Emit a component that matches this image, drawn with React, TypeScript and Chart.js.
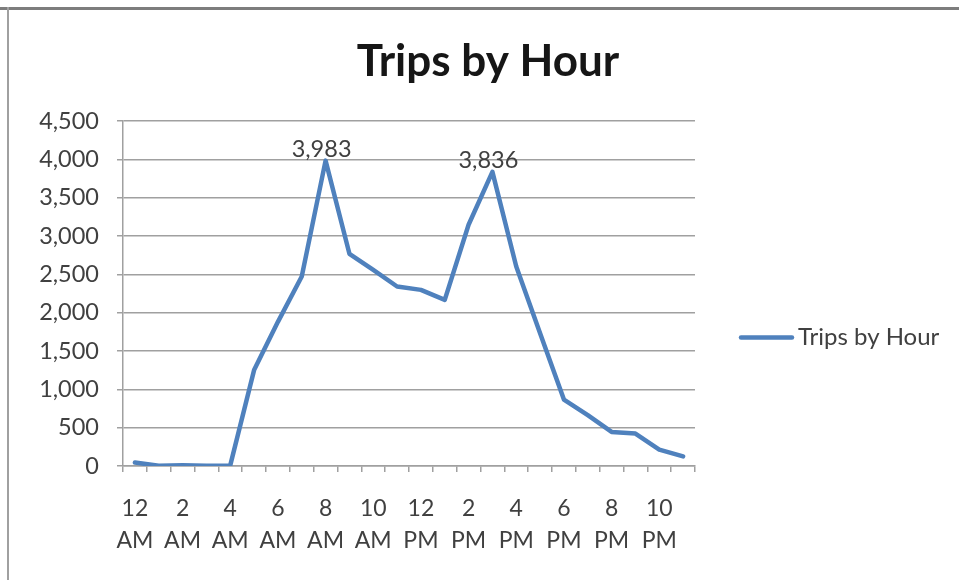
import React, { useEffect, useRef } from "react";
import { Chart, registerables } from "chart.js";

Chart.register(...registerables);

const categories = [
  "12 AM", "1 AM", "2 AM", "3 AM", "4 AM", "5 AM", "6 AM", "7 AM", "8 AM", "9 AM", "10 AM", "11 AM",
  "12 PM", "1 PM", "2 PM", "3 PM", "4 PM", "5 PM", "6 PM", "7 PM", "8 PM", "9 PM", "10 PM", "11 PM",
];
const trips = [
  45, 3, 10, 3, 8, 1251, 1880, 2472, 3983, 2768, 2559, 2341,
  2297, 2166, 3147, 3836, 2602, 1731, 867, 663, 445, 423, 214, 126,
];
const labeledPoints = [8, 15];
const yTicksMax = 4500;
const yStep = 500;
const title = "Trips by Hour";
const seriesName = "Trips by Hour";

const FONT = "Lato, 'Open Sans', sans-serif";
const BLUE = "#4F81BD";

const fmt = (v: number) => v.toLocaleString("en-US");

const decorPlugin = {
  id: "decor",
  afterDraw(chart: any) {
    const ctx = chart.ctx;
    const area = chart.chartArea;
    ctx.save();
    // frame
    ctx.fillStyle = "#7d7d7d";
    ctx.fillRect(0, 7, chart.width, 3);
    ctx.fillStyle = "#a0a0a0";
    ctx.fillRect(7, 7, 2, chart.height - 7);
    // title
    ctx.fillStyle = "#161616";
    ctx.font = `bold 44px ${FONT}`;
    ctx.textAlign = "center";
    ctx.textBaseline = "alphabetic";
    ctx.fillText(title, 488, 76);
    // data labels
    const meta = chart.getDatasetMeta(0);
    ctx.font = `23.5px ${FONT}`;
    ctx.fillStyle = "#404040";
    ctx.textBaseline = "alphabetic";
    labeledPoints.forEach((i) => {
      const p = meta.data[i];
      ctx.fillText(fmt(trips[i]), p.x - 4, p.y - 4);
    });
    // legend
    const ly = (area.top + area.bottom) / 2 + 44;
    ctx.strokeStyle = BLUE;
    ctx.lineWidth = 4.5;
    ctx.lineCap = "round";
    ctx.beginPath();
    ctx.moveTo(741, ly);
    ctx.lineTo(792, ly);
    ctx.stroke();
    ctx.font = `24px ${FONT}`;
    ctx.fillStyle = "#404040";
    ctx.textAlign = "left";
    ctx.textBaseline = "middle";
    ctx.fillText(seriesName, 798, ly);
    ctx.restore();
  },
};

export default function App() {
  const ref = useRef<HTMLCanvasElement | null>(null);
  useEffect(() => {
    if (!ref.current) return;
    const chart = new Chart(ref.current, {
      type: "line",
      data: {
        labels: categories,
        datasets: [
          {
            label: seriesName,
            data: trips,
            borderColor: BLUE,
            backgroundColor: BLUE,
            borderWidth: 4.5,
            pointRadius: 0,
            tension: 0,
            borderJoinStyle: "round",
            borderCapStyle: "round",
          },
        ],
      },
      options: {
        responsive: false,
        animation: false,
        layout: { padding: { left: 0, right: 264, top: 121, bottom: 0 } },
        plugins: {
          legend: { display: false },
          title: { display: false },
          tooltip: { enabled: false },
        },
        scales: {
          x: {
            type: "category",
            offset: true,
            afterFit: (s: any) => {
              s.height = 114;
            },
            grid: {
              offset: true,
              drawOnChartArea: false,
              drawTicks: true,
              tickLength: 6,
              color: "#a0a0a0",
              lineWidth: 1.5,
            },
            border: { display: true, color: "#a0a0a0", width: 1.5 },
            ticks: {
              autoSkip: false,
              maxRotation: 0,
              minRotation: 0,
              padding: 20,
              color: "#404040",
              font: { family: FONT, size: 23, lineHeight: 1.4 },
              callback: (_v: any, i: number) =>
                i % 2 === 0 ? categories[i].split(" ") : "",
            },
          },
          y: {
            min: 0,
            max: yTicksMax,
            afterFit: (s: any) => {
              s.width = 123;
            },
            grid: {
              color: "#a0a0a0",
              lineWidth: 1.5,
              tickLength: 6,
            },
            border: { display: true, color: "#a0a0a0", width: 1.5 },
            ticks: {
              stepSize: yStep,
              padding: 18,
              color: "#404040",
              font: { family: FONT, size: 23.5 },
              callback: (v: any) => fmt(Number(v)),
            },
          },
        },
      },
      plugins: [decorPlugin],
    });
    return () => chart.destroy();
  }, []);
  return (
    <div style={{ position: "fixed", left: 0, top: 0, width: 959, height: 580, background: "#fff" }}>
      <canvas ref={ref} width={959} height={580} style={{ display: "block" }} />
    </div>
  );
}
